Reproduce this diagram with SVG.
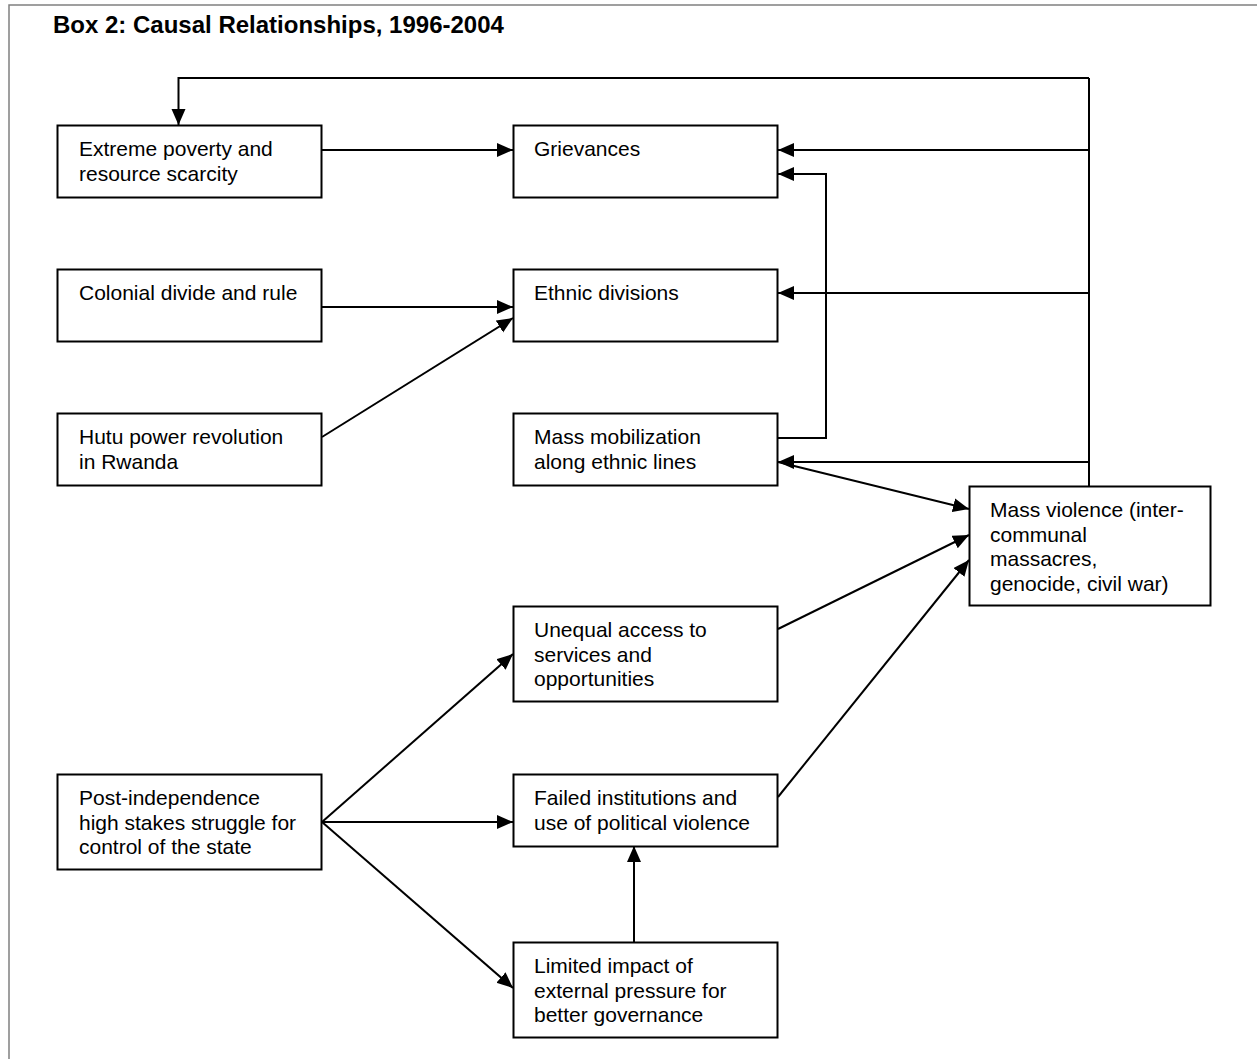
<svg xmlns="http://www.w3.org/2000/svg" width="1257" height="1059" viewBox="0 0 1257 1059">
<style>
.frame{fill:none;stroke:#808080;stroke-width:1.5}
.box{fill:#fff;stroke:#000;stroke-width:2}
.t{font-family:"Liberation Sans",Arial,sans-serif;font-size:21px;fill:#000}
.title{font-family:"Liberation Sans",Arial,sans-serif;font-size:24px;font-weight:bold;fill:#000}
.c{fill:none;stroke:#000;stroke-width:2}
.a{marker-end:url(#ah)}
</style>
<defs>
<marker id="ah" markerUnits="userSpaceOnUse" markerWidth="17" markerHeight="15" refX="16" refY="7" orient="auto">
<path d="M0,0 L16,7 L0,14 z" fill="#000"/>
</marker>
</defs>
<rect width="1257" height="1059" fill="#fff"/>
<path class="frame" d="M9,1059 V5 H1257"/>
<text class="title" x="53" y="33">Box 2: Causal Relationships, 1996-2004</text>

<g id="connectors">
<path class="c" d="M1089,486 V78"/>
<path class="c a" d="M1089,78 H178.5 V125"/>
<path class="c a" d="M322,150 H513"/>
<path class="c a" d="M1089,150 H778"/>
<path class="c a" d="M778,438 H826 V174 H778"/>
<path class="c a" d="M322,307 H513"/>
<path class="c a" d="M322,437 L513,318"/>
<path class="c a" d="M1089,293 H778"/>
<path class="c a" d="M1089,462 H778"/>
<path class="c a" d="M778,462 L969,509"/>
<path class="c a" d="M778,629 L969,535"/>
<path class="c a" d="M778,797 L969,560"/>
<path class="c a" d="M322,822 L513,654"/>
<path class="c a" d="M322,822 H513"/>
<path class="c a" d="M322,822 L513,988"/>
<path class="c a" d="M634,942 V846"/>
</g>

<g id="n-poverty">
<rect class="box" x="57.5" y="125.5" width="264" height="72"/>
<text class="t" x="79" y="156">Extreme poverty and</text>
<text class="t" x="79" y="181">resource scarcity</text>
</g>
<g id="n-grievances">
<rect class="box" x="513.5" y="125.5" width="264" height="72"/>
<text class="t" x="534" y="156">Grievances</text>
</g>
<g id="n-colonial">
<rect class="box" x="57.5" y="269.5" width="264" height="72"/>
<text class="t" x="79" y="300">Colonial divide and rule</text>
</g>
<g id="n-ethnic">
<rect class="box" x="513.5" y="269.5" width="264" height="72"/>
<text class="t" x="534" y="300">Ethnic divisions</text>
</g>
<g id="n-hutu">
<rect class="box" x="57.5" y="413.5" width="264" height="72"/>
<text class="t" x="79" y="444">Hutu power revolution</text>
<text class="t" x="79" y="469">in Rwanda</text>
</g>
<g id="n-mobilization">
<rect class="box" x="513.5" y="413.5" width="264" height="72"/>
<text class="t" x="534" y="444">Mass mobilization</text>
<text class="t" x="534" y="469">along ethnic lines</text>
</g>
<g id="n-violence">
<rect class="box" x="969.5" y="486.5" width="241" height="119"/>
<text class="t" x="990" y="517">Mass violence (inter-</text>
<text class="t" x="990" y="541.5">communal</text>
<text class="t" x="990" y="566">massacres,</text>
<text class="t" x="990" y="590.5">genocide, civil war)</text>
</g>
<g id="n-unequal">
<rect class="box" x="513.5" y="606.5" width="264" height="95"/>
<text class="t" x="534" y="637">Unequal access to</text>
<text class="t" x="534" y="661.5">services and</text>
<text class="t" x="534" y="686">opportunities</text>
</g>
<g id="n-post">
<rect class="box" x="57.5" y="774.5" width="264" height="95"/>
<text class="t" x="79" y="805">Post-independence</text>
<text class="t" x="79" y="829.5">high stakes struggle for</text>
<text class="t" x="79" y="854">control of the state</text>
</g>
<g id="n-failed">
<rect class="box" x="513.5" y="774.5" width="264" height="72"/>
<text class="t" x="534" y="805">Failed institutions and</text>
<text class="t" x="534" y="829.5">use of political violence</text>
</g>
<g id="n-limited">
<rect class="box" x="513.5" y="942.5" width="264" height="95"/>
<text class="t" x="534" y="973">Limited impact of</text>
<text class="t" x="534" y="997.5">external pressure for</text>
<text class="t" x="534" y="1022">better governance</text>
</g>
</svg>
